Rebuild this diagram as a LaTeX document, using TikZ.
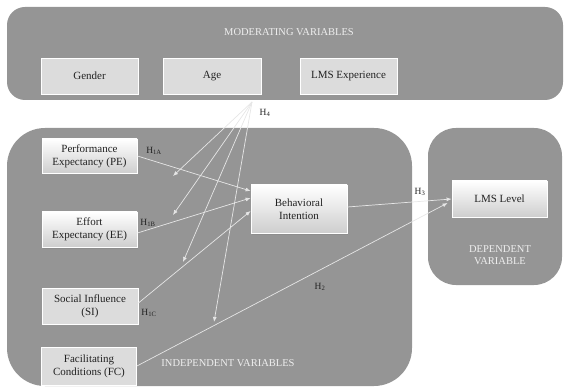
\documentclass[tikz,border=0pt]{standalone}
\usepackage{fontspec}
\setmainfont{Liberation Serif}
\usetikzlibrary{arrows.meta,shadows}
\definecolor{panelgray}{HTML}{959595}
\definecolor{boxgray}{HTML}{DCDCDC}
\definecolor{linegray}{HTML}{E6E6E6}
\definecolor{titlegray}{HTML}{EEEEEE}
\definecolor{inkgray}{HTML}{222222}
\begin{document}
\begin{tikzpicture}[x=1pt,y=-1pt,font=\fontsize{11}{13}\selectfont,text=inkgray,
  panel/.style={fill=panelgray,draw=none},
  flatbox/.style={fill=boxgray,draw=white,line width=0.8pt,minimum width=95pt,minimum height=36pt,align=center,inner sep=2pt},
  shadebox/.style={flatbox,top color=white,bottom color=boxgray!85!gray,drop shadow={opacity=0.35,shadow xshift=1pt,shadow yshift=-1.5pt}},
  paneltitle/.style={text=titlegray,align=center,font=\fontsize{10.5}{12.5}\selectfont},
  hyp/.style={font=\fontsize{9.5}{11}\selectfont},
  link/.style={draw=linegray,line width=0.7pt,-{Latex[length=5pt,width=4pt]}}]
\useasboundingbox (0,0) rectangle (564,387);

% the three panels
\fill[panel,rounded corners=18pt] (7,7) rectangle (563,100);
\fill[panel,rounded corners=38pt] (7,128) rectangle (412,386);
\fill[panel,rounded corners=28pt] (428,128) rectangle (562,285);

\node(modtitle) [paneltitle] at (289,32) {MODERATING VARIABLES};
\node(indtitle) [paneltitle] at (228,363) {INDEPENDENT VARIABLES};
\node(deptitle) [paneltitle] at (500,255) {DEPENDENT\\VARIABLE};

% moderators
\node(gender) [flatbox,minimum width=97pt] at (89.5,76) {Gender};
\node(age) [flatbox,minimum width=98pt] at (212,76) {Age};
\node(lmsexp) [flatbox,minimum width=97pt] at (348.5,76) {LMS Experience};

% constructs
\node(pe) [shadebox,minimum height=34pt] at (89.5,156) {Performance\\Expectancy (PE)};
\node(ee) [shadebox,minimum height=35pt] at (89.5,229.5) {Effort\\Expectancy (EE)};
\node(si) [flatbox,minimum width=96pt] at (90,306) {Social Influence\\(SI)};
\node(fc) [flatbox,minimum height=38pt] at (89,366) {Facilitating\\Conditions (FC)};
\node(bi) [shadebox,minimum width=96pt,minimum height=48pt] at (299,209) {Behavioral\\Intention};
\node(lms) [shadebox] at (499.5,199) {LMS Level};

% hypotheses
\node(h1a) [hyp] at (154,151) {H\textsubscript{1A}};
\node(h1b) [hyp] at (148,223) {H\textsubscript{1B}};
\node(h1c) [hyp] at (149,313) {H\textsubscript{1C}};
\node(h2) [hyp] at (320,287) {H\textsubscript{2}};
\node(h3) [hyp] at (420,192) {H\textsubscript{3}};
\node(h4) [hyp] at (265,113) {H\textsubscript{4}};

\draw[link] (pe.east) -- ([yshift=18pt]bi.west);
\draw[link] ([yshift=-3.5pt]ee.east) -- ([yshift=11pt]bi.west);
\draw[link] ([yshift=3pt]si.east) -- ([yshift=-2pt]bi.west);
\draw[link] ([yshift=2pt]bi.east) -- (lms.west);
\draw[link] (fc.east) -- ([xshift=-4pt,yshift=-4pt]lms.west);

% moderating effects
\coordinate(mod) at (252,102);
\coordinate(m1) at (173,176);
\coordinate(m2) at (173,215);
\coordinate(m3) at (183,262);
\coordinate(m4) at (214,322);
\foreach \t in {m1,m2,m3,m4}
  \draw[link] (mod) -- (\t);
\end{tikzpicture}
\end{document}
